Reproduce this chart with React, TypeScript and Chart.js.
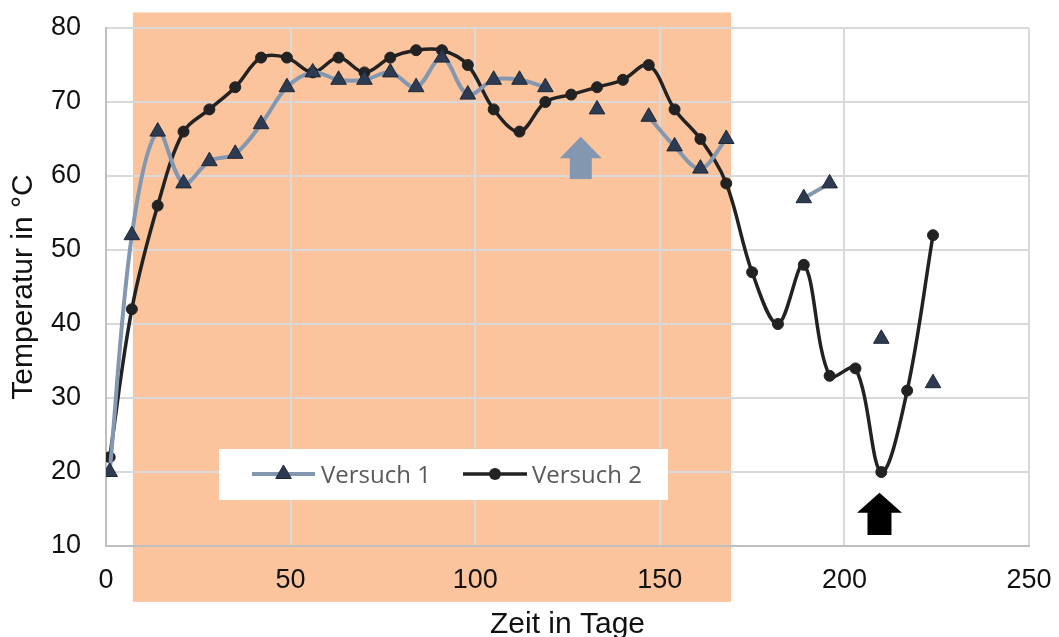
import { useEffect, useRef } from "react";
import { Chart, registerables } from "chart.js";

Chart.register(...registerables);

// ---- data ----
const days = [1, 7, 14, 21, 28, 35, 42, 49, 56, 63, 70, 77, 84, 91, 98, 105, 112, 119, 126, 133, 140, 147, 154, 161, 168, 175, 182, 189, 196, 203, 210, 217, 224];
const versuch1: (number | null)[] = [20, 52, 66, 59, 62, 63, 67, 72, 74, 73, 73, 74, 72, 76, 71, 73, 73, 72, null, 69, null, 68, 64, 61, 65, null, null, 57, 59, null, 38, null, 32];
const versuch2: (number | null)[] = [22, 42, 56, 66, 69, 72, 76, 76, 74, 76, 74, 76, 77, 77, 75, 69, 66, 70, 71, 72, 73, 75, 69, 65, 59, 47, 40, 48, 33, 34, 20, 31, 52];
const seriesLabels = ["Versuch 1", "Versuch 2"];
const xTicks = [0, 50, 100, 150, 200, 250];
const yTicks = [10, 20, 30, 40, 50, 60, 70, 80];

// shaded period (data units): x from..to, y from..to
const shadeX = [7.3, 169.3];
const shadeY = [2.45, 82.1];

// arrows (data units): x centre, tip y, head base y, bottom y
const arrowBlue = [128.6, 65.3, 62.4, 59.6];
const arrowBlack = [209.5, 17.2, 14.5, 11.5];

const BLUE = "#8497B0";
const NAVY = "#2C3A52";
const BLACK = "#222222";

const toPoints = (vals: (number | null)[]) => days.map((d, i) => ({ x: d, y: vals[i] }));

function drawArrow(ctx: CanvasRenderingContext2D, chart: any, a: number[], headHalf: number, shaftHalf: number, color: string) {
  const xs = chart.scales.x;
  const ys = chart.scales.y;
  const cx = xs.getPixelForValue(a[0]);
  const tip = ys.getPixelForValue(a[1]);
  const hb = ys.getPixelForValue(a[2]);
  const bot = ys.getPixelForValue(a[3]);
  ctx.save();
  ctx.fillStyle = color;
  ctx.beginPath();
  ctx.moveTo(cx, tip);
  ctx.lineTo(cx + headHalf, hb);
  ctx.lineTo(cx + shaftHalf, hb);
  ctx.lineTo(cx + shaftHalf, bot);
  ctx.lineTo(cx - shaftHalf, bot);
  ctx.lineTo(cx - shaftHalf, hb);
  ctx.lineTo(cx - headHalf, hb);
  ctx.closePath();
  ctx.fill();
  ctx.restore();
}

function triangle(ctx: CanvasRenderingContext2D, x: number, y: number, r: number) {
  ctx.beginPath();
  let rad = 0;
  ctx.moveTo(x + Math.sin(rad) * r, y - Math.cos(rad) * r);
  rad += (2 * Math.PI) / 3;
  ctx.lineTo(x + Math.sin(rad) * r, y - Math.cos(rad) * r);
  rad += (2 * Math.PI) / 3;
  ctx.lineTo(x + Math.sin(rad) * r, y - Math.cos(rad) * r);
  ctx.closePath();
}

const shadePlugin = {
  id: "shade",
  beforeDraw(chart: any) {
    const { ctx } = chart;
    const xs = chart.scales.x;
    const ys = chart.scales.y;
    const l = xs.getPixelForValue(shadeX[0]);
    const r = xs.getPixelForValue(shadeX[1]);
    const t = ys.getPixelForValue(shadeY[1]);
    const b = ys.getPixelForValue(shadeY[0]);
    ctx.save();
    ctx.fillStyle = "#FBC49D";
    ctx.fillRect(l, t, r - l, b - t);
    ctx.restore();
  },
};

const overlayPlugin = {
  id: "overlay",
  afterDraw(chart: any) {
    const { ctx } = chart;
    drawArrow(ctx, chart, arrowBlue, 21, 11, BLUE);
    drawArrow(ctx, chart, arrowBlack, 22.5, 12, "#000000");

    // legend box
    const bx = 219, by = 449, bw = 449, bh = 51;
    ctx.save();
    ctx.fillStyle = "#FFFFFF";
    ctx.fillRect(bx, by, bw, bh);
    const cy = 474;
    // item 1
    ctx.strokeStyle = BLUE;
    ctx.lineWidth = 4;
    ctx.lineCap = "butt";
    ctx.beginPath();
    ctx.moveTo(252, cy);
    ctx.lineTo(315, cy);
    ctx.stroke();
    ctx.fillStyle = NAVY;
    ctx.strokeStyle = "#1E2838";
    ctx.lineWidth = 1;
    triangle(ctx, 283.5, cy, 9);
    ctx.fill();
    ctx.stroke();
    // item 2
    ctx.strokeStyle = BLACK;
    ctx.lineWidth = 3.5;
    ctx.beginPath();
    ctx.moveTo(463, cy);
    ctx.lineTo(527, cy);
    ctx.stroke();
    ctx.fillStyle = BLACK;
    ctx.beginPath();
    ctx.arc(495, cy, 6, 0, Math.PI * 2);
    ctx.fill();
    // text
    ctx.fillStyle = "#595959";
    ctx.font = '24px "Open Sans"';
    ctx.textBaseline = "alphabetic";
    ctx.textAlign = "left";
    ctx.fillText(seriesLabels[0], 321, 483);
    ctx.fillText(seriesLabels[1], 532, 483);
    ctx.restore();
  },
};

const zeroPadding = (s: any) => {
  s.paddingTop = 0;
  s.paddingBottom = 0;
  s.paddingLeft = 0;
  s.paddingRight = 0;
};

export default function App() {
  const ref = useRef<HTMLCanvasElement>(null);
  useEffect(() => {
    const chart = new Chart(ref.current as HTMLCanvasElement, {
      type: "line",
      data: {
        datasets: [
          {
            label: seriesLabels[0],
            data: toPoints(versuch1),
            borderColor: BLUE,
            borderWidth: 4,
            backgroundColor: NAVY,
            pointBackgroundColor: NAVY,
            pointBorderColor: "#1E2838",
            pointBorderWidth: 1,
            pointStyle: "triangle",
            pointRadius: 9,
            tension: 0.35,
            spanGaps: false,
          },
          {
            label: seriesLabels[1],
            data: toPoints(versuch2),
            borderColor: BLACK,
            borderWidth: 3.5,
            backgroundColor: BLACK,
            pointBackgroundColor: BLACK,
            pointBorderColor: BLACK,
            pointBorderWidth: 1,
            pointStyle: "circle",
            pointRadius: 5.5,
            tension: 0.35,
            spanGaps: false,
          },
        ],
      },
      options: {
        responsive: false,
        animation: false,
        events: [],
        layout: { padding: { top: 28, right: 30, left: 0, bottom: 0 } },
        plugins: {
          legend: { display: false },
          tooltip: { enabled: false },
        },
        scales: {
          x: {
            type: "linear",
            min: 0,
            max: 250,
            afterFit: (s: any) => {
              s.height = 91;
              zeroPadding(s);
            },
            afterBuildTicks: (s: any) => {
              s.ticks = xTicks.map((v) => ({ value: v }));
            },
            grid: { color: "#D9D9D9", lineWidth: 2, drawTicks: false },
            border: { display: true, color: "#BFBFBF", width: 2 },
            ticks: {
              padding: 18,
              color: "#111111",
              font: { family: '"Liberation Sans", Arial, sans-serif', size: 27 },
            },
            title: {
              display: true,
              text: "Zeit in Tage",
              color: "#111111",
              padding: { top: 0, bottom: 0 },
              font: { family: '"Liberation Sans", Arial, sans-serif', size: 30, lineHeight: 0.85 },
            },
          },
          y: {
            type: "linear",
            min: 10,
            max: 80,
            afterFit: (s: any) => {
              s.width = 106;
              zeroPadding(s);
            },
            afterBuildTicks: (s: any) => {
              s.ticks = yTicks.map((v) => ({ value: v }));
            },
            grid: { color: "#D9D9D9", lineWidth: 2, drawTicks: false },
            border: { display: true, color: "#BFBFBF", width: 2 },
            ticks: {
              padding: 25,
              color: "#111111",
              font: { family: '"Liberation Sans", Arial, sans-serif', size: 27 },
            },
            title: {
              display: true,
              text: "Temperatur in °C",
              color: "#111111",
              padding: { top: 6, bottom: 0 },
              font: { family: '"Liberation Sans", Arial, sans-serif', size: 30 },
            },
          },
        },
      },
      plugins: [shadePlugin, overlayPlugin],
    } as any);
    return () => chart.destroy();
  }, []);
  return (
    <div style={{ position: "absolute", left: 0, top: 0, width: 1059, height: 637 }}>
      <canvas ref={ref} width={1059} height={637} style={{ width: 1059, height: 637, display: "block" }} />
    </div>
  );
}
